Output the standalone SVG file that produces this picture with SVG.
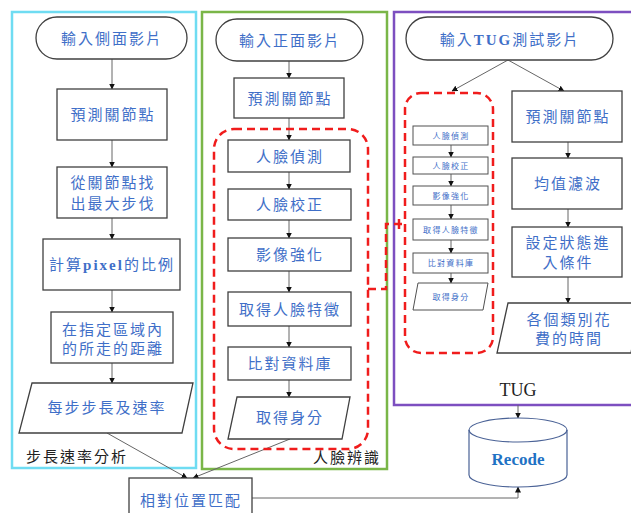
<svg xmlns="http://www.w3.org/2000/svg" width="631" height="513" viewBox="0 0 631 513">
<style>
.box{fill:#fff;stroke:#404040;stroke-width:1.3}
.sbox{fill:#fff;stroke:#505050;stroke-width:1}
.t{font-family:"Liberation Serif","Noto Sans CJK TC",serif;font-size:15px;fill:#3f6fc8;text-anchor:middle;letter-spacing:2px}
.ts{font-family:"Liberation Serif","Noto Sans CJK TC",serif;font-size:8px;fill:#3f6fc8;text-anchor:middle;letter-spacing:1.3px}
.lbl{font-family:"Liberation Serif","Noto Sans CJK TC",serif;font-size:15px;fill:#222;letter-spacing:2px}
.ln{fill:none;stroke:#666;stroke-width:1}
.dash{fill:none;stroke:#f01c1c;stroke-width:2.5;stroke-dasharray:8 5}
</style>
<defs>
<marker id="ah" markerWidth="6" markerHeight="6" refX="5.5" refY="3" orient="auto" markerUnits="userSpaceOnUse">
<path d="M0,0 L6,3 L0,6 Z" fill="#111"/>
</marker>
</defs>
<rect width="631" height="513" fill="#fff"/>

<!-- containers -->
<g id="container-left">
<rect x="12" y="12" width="184" height="456" fill="none" stroke="#6fdcf2" stroke-width="2.5"/>
<text class="lbl" x="26" y="462">步長速率分析</text>
</g>
<g id="container-mid">
<rect x="202" y="12" width="185" height="457" fill="none" stroke="#7ab648" stroke-width="2.5"/>
<text class="lbl" x="313" y="463">人臉辨識</text>
</g>
<g id="container-right">
<rect x="394" y="12" width="250" height="393" fill="none" stroke="#7d4fc0" stroke-width="2.5"/>
<text x="518" y="396" font-family="Liberation Serif, serif" font-size="18" fill="#222" text-anchor="middle">TUG</text>
</g>

<g id="connectors">
<!-- left column -->
<path class="ln" d="M112,59 V89" marker-end="url(#ah)"/>
<path class="ln" d="M112,140 V167" marker-end="url(#ah)"/>
<path class="ln" d="M112,218 V239" marker-end="url(#ah)"/>
<path class="ln" d="M112,290 V312" marker-end="url(#ah)"/>
<path class="ln" d="M112,363 V383" marker-end="url(#ah)"/>
<path class="ln" d="M107,433 L187,478" marker-end="url(#ah)"/>
<!-- middle column -->
<path class="ln" d="M289,61 V78" marker-end="url(#ah)"/>
<path class="ln" d="M289,118 V140" marker-end="url(#ah)"/>
<path class="ln" d="M289,172 V189" marker-end="url(#ah)"/>
<path class="ln" d="M289,220 V238" marker-end="url(#ah)"/>
<path class="ln" d="M289,271 V292" marker-end="url(#ah)"/>
<path class="ln" d="M289,326 V347" marker-end="url(#ah)"/>
<path class="ln" d="M289,380 V397" marker-end="url(#ah)"/>
<path class="ln" d="M290,439 L193,478" marker-end="url(#ah)"/>
<!-- right column -->
<path class="ln" d="M508,60 L452,91" marker-end="url(#ah)"/>
<path class="ln" d="M508,60 L564,91" marker-end="url(#ah)"/>
<path class="ln" d="M451,145 V157" marker-end="url(#ah)"/>
<path class="ln" d="M451,174 V186" marker-end="url(#ah)"/>
<path class="ln" d="M451,205 V219" marker-end="url(#ah)"/>
<path class="ln" d="M451,240 V253" marker-end="url(#ah)"/>
<path class="ln" d="M451,273 V283" marker-end="url(#ah)"/>
<path class="ln" d="M568,142 V158" marker-end="url(#ah)"/>
<path class="ln" d="M568,209 V227" marker-end="url(#ah)"/>
<path class="ln" d="M568,277 V303" marker-end="url(#ah)"/>
<path class="ln" d="M518,405 V418" marker-end="url(#ah)"/>
<path class="ln" d="M252,498 H518 V487" marker-end="url(#ah)"/>
<!-- dashed link between face-recognition groups -->
<path class="dash" d="M368,289 H386 V224 H405"/>
<path d="M399,219 V229" stroke="#f01c1c" stroke-width="2.5"/>
</g>

<!-- left column nodes -->
<g id="n-side-input">
<rect class="box" x="36" y="17" width="151" height="42" rx="21"/>
<text class="t" x="112" y="44">輸入側面影片</text>
</g>
<g id="n-side-joints">
<rect class="box" x="57" y="89" width="110" height="51"/>
<text class="t" x="113" y="120">預測關節點</text>
</g>
<g id="n-side-maxstep">
<rect class="box" x="57" y="167" width="110" height="51"/>
<text class="t" x="113" y="188">從關節點找</text>
<text class="t" x="113" y="209">出最大步伐</text>
</g>
<g id="n-side-pixel">
<rect class="box" x="43" y="239" width="137" height="51"/>
<text class="t" x="112" y="270">計算<tspan font-weight="bold">pixel</tspan>的比例</text>
</g>
<g id="n-side-dist">
<rect class="box" x="51" y="312" width="122" height="51"/>
<text class="t" x="113" y="335">在指定區域內</text>
<text class="t" x="113" y="354">的所走的距離</text>
</g>
<g id="n-side-speed">
<polygon class="box" points="32,383 193,383 182,433 19,433"/>
<text class="t" x="107" y="413">每步步長及速率</text>
</g>

<!-- middle column nodes -->
<g id="group-face-mid">
<rect class="dash" x="214" y="129" width="154" height="320" rx="20"/>
</g>
<g id="n-front-input">
<rect class="box" x="216" y="19" width="147" height="42" rx="21"/>
<text class="t" x="290" y="46">輸入正面影片</text>
</g>
<g id="n-front-joints">
<rect class="box" x="234" y="78" width="110" height="40"/>
<text class="t" x="290" y="104">預測關節點</text>
</g>
<g id="n-face-detect">
<rect class="box" x="228" y="140" width="122" height="32"/>
<text class="t" x="290" y="162">人臉偵測</text>
</g>
<g id="n-face-align">
<rect class="box" x="228" y="189" width="123" height="31"/>
<text class="t" x="290" y="210">人臉校正</text>
</g>
<g id="n-enhance">
<rect class="box" x="228" y="238" width="123" height="33"/>
<text class="t" x="290" y="260">影像強化</text>
</g>
<g id="n-feature">
<rect class="box" x="228" y="292" width="123" height="34"/>
<text class="t" x="290" y="315">取得人臉特徵</text>
</g>
<g id="n-db">
<rect class="box" x="228" y="347" width="123" height="33"/>
<text class="t" x="290" y="369">比對資料庫</text>
</g>
<g id="n-identity">
<polygon class="box" points="237,397 350,397 342,439 228,439"/>
<text class="t" x="290" y="423">取得身分</text>
</g>

<!-- right column nodes -->
<g id="group-face-right">
<rect class="dash" x="405" y="93" width="88" height="260" rx="16"/>
</g>
<g id="n-tug-input">
<rect class="box" x="406" y="17" width="207" height="43" rx="21.5"/>
<text class="t" x="510" y="45">輸入<tspan font-weight="bold">TUG</tspan>測試影片</text>
</g>
<g id="n-s-detect">
<rect class="sbox" x="413" y="126" width="75" height="19"/>
<text class="ts" x="451" y="138.5">人臉偵測</text>
</g>
<g id="n-s-align">
<rect class="sbox" x="413" y="157" width="75" height="17"/>
<text class="ts" x="451" y="168.5">人臉校正</text>
</g>
<g id="n-s-enhance">
<rect class="sbox" x="413" y="186" width="75" height="19"/>
<text class="ts" x="451" y="198.5">影像強化</text>
</g>
<g id="n-s-feature">
<rect class="sbox" x="413" y="219" width="75" height="21"/>
<text class="ts" x="451" y="232.5">取得人臉特徵</text>
</g>
<g id="n-s-db">
<rect class="sbox" x="413" y="253" width="75" height="20"/>
<text class="ts" x="451" y="266">比對資料庫</text>
</g>
<g id="n-s-identity">
<polygon class="sbox" points="418,283 488,283 483,310 413,310"/>
<text class="ts" x="451" y="299.5">取得身分</text>
</g>
<g id="n-tug-joints">
<rect class="box" x="512" y="91" width="110" height="51"/>
<text class="t" x="568" y="122">預測關節點</text>
</g>
<g id="n-mean-filter">
<rect class="box" x="512" y="158" width="110" height="51"/>
<text class="t" x="568" y="189">均值濾波</text>
</g>
<g id="n-state">
<rect class="box" x="512" y="227" width="110" height="50"/>
<text class="t" x="568" y="248">設定狀態進</text>
<text class="t" x="568" y="268">入條件</text>
</g>
<g id="n-time">
<polygon class="box" points="508,303 640,303 631,353 497,353"/>
<text class="t" x="569" y="325">各個類別花</text>
<text class="t" x="569" y="344">費的時間</text>
</g>

<!-- bottom -->
<g id="n-recode">
<path d="M469,430 A49,12 0 0 1 567,430 V475 A49,12 0 0 1 469,475 Z" fill="#fff" stroke="#4a6296" stroke-width="1.2"/>
<path d="M469,430 A49,12 0 0 0 567,430" fill="none" stroke="#4a6296" stroke-width="1.2"/>
<text x="518" y="465" font-family="Liberation Serif, serif" font-size="17" font-weight="bold" fill="#1f72c4" text-anchor="middle">Recode</text>
</g>
<g id="n-match">
<rect class="box" x="129" y="478" width="123" height="48"/>
<text class="t" x="191" y="506">相對位置匹配</text>
</g>
</svg>
